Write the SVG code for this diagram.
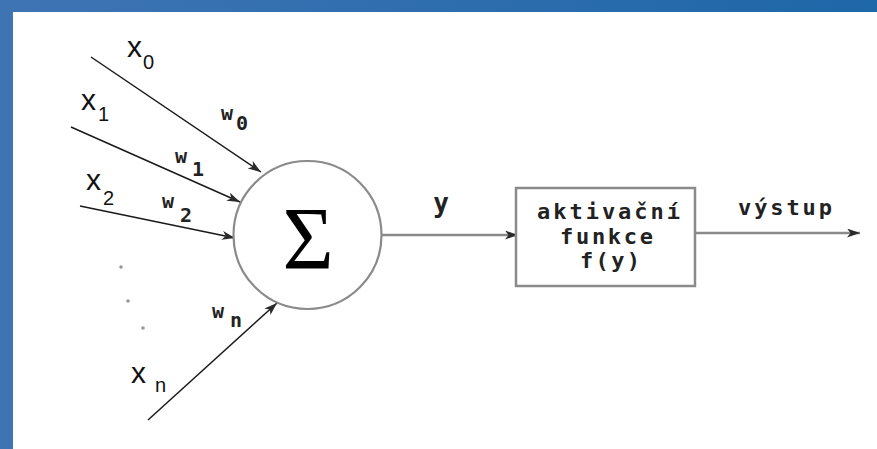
<svg xmlns="http://www.w3.org/2000/svg" width="877" height="449" viewBox="0 0 877 449">
  <defs>
    <linearGradient id="bar" x1="0" y1="0" x2="1" y2="0">
      <stop offset="0" stop-color="#3f74b4"/>
      <stop offset="1" stop-color="#1e67a8"/>
    </linearGradient>
    <marker id="arr" viewBox="0 0 13 9" refX="13" refY="4.5" markerWidth="13" markerHeight="9" markerUnits="userSpaceOnUse" orient="auto">
      <path d="M0,0 L13,4.5 L0,9 L3.5,4.5 z" fill="#2a2a2a"/>
    </marker>
    <style>
      .in { stroke: #1a1a1a; stroke-width: 1.5; fill: none; }
      .out { stroke: #8a8a8a; stroke-width: 2.5; fill: none; }
      .lbl { font-family: "Liberation Sans", Arial, sans-serif; fill: #111; }
      .mono { font-family: "DejaVu Sans Mono", "Liberation Mono", monospace; font-weight: bold; fill: #222; }
      .dot { fill: #999; }
    </style>
  </defs>
  <rect x="0" y="0" width="877" height="449" fill="#ffffff"/>
  <rect x="0" y="0" width="877" height="12" fill="url(#bar)"/>
  <rect x="0" y="0" width="13" height="449" fill="#3f74b4"/>

  <g id="connectors">
    <line class="in" x1="91" y1="57" x2="261" y2="172" marker-end="url(#arr)"/>
    <line class="in" x1="71" y1="127" x2="240" y2="202" marker-end="url(#arr)"/>
    <line class="in" x1="80" y1="206" x2="235" y2="238" marker-end="url(#arr)"/>
    <line class="in" x1="148" y1="420" x2="277" y2="303" marker-end="url(#arr)"/>
    <line class="out" x1="382" y1="235" x2="518" y2="235" marker-end="url(#arr)"/>
    <line class="out" x1="695" y1="233" x2="860" y2="233" marker-end="url(#arr)"/>
  </g>

  <g id="inputs">
    <text class="lbl" font-size="30" x="127" y="57">x</text>
    <text class="lbl" font-size="20" x="143" y="69">0</text>
    <text class="lbl" font-size="30" x="81" y="110">x</text>
    <text class="lbl" font-size="20" x="98" y="121">1</text>
    <text class="lbl" font-size="30" x="86" y="190">x</text>
    <text class="lbl" font-size="20" x="103" y="205">2</text>
    <text class="lbl" font-size="30" x="131" y="383">x</text>
    <text class="lbl" font-size="20" x="155" y="392">n</text>
    <circle class="dot" cx="121" cy="267" r="1.8"/>
    <circle class="dot" cx="128" cy="301" r="1.8"/>
    <circle class="dot" cx="143" cy="328" r="1.8"/>
  </g>

  <g id="weights">
    <text class="mono" font-size="20" x="221" y="120">w</text>
    <text class="mono" font-size="20" x="236" y="130">0</text>
    <text class="mono" font-size="20" x="175" y="163">w</text>
    <text class="mono" font-size="20" x="192" y="176">1</text>
    <text class="mono" font-size="20" x="162" y="208">w</text>
    <text class="mono" font-size="20" x="180" y="222">2</text>
    <text class="mono" font-size="20" x="212" y="318">w</text>
    <text class="mono" font-size="20" x="230" y="327">n</text>
  </g>

  <g id="sum">
    <circle cx="307.5" cy="235" r="74" fill="#fff" stroke="#8a8a8a" stroke-width="2.2"/>
    <text x="308" y="268" font-size="88" text-anchor="middle" font-family="'Liberation Serif', 'Times New Roman', serif" fill="#000">Σ</text>
  </g>

  <g id="y-label">
    <text class="mono" font-size="26" x="441" y="212" text-anchor="middle">y</text>
  </g>

  <g id="activation">
    <rect x="516" y="188" width="179" height="98" fill="#fff" stroke="#8a8a8a" stroke-width="2.5"/>
    <text class="mono" font-size="22" x="608.5" y="219" text-anchor="middle" textLength="143" lengthAdjust="spacing">aktivační</text>
    <text class="mono" font-size="22" x="606.5" y="244" text-anchor="middle" textLength="93" lengthAdjust="spacing">funkce</text>
    <text class="mono" font-size="22" x="610" y="268" text-anchor="middle" textLength="60" lengthAdjust="spacing">f(y)</text>
  </g>

  <g id="output">
    <text class="mono" font-size="22" x="785" y="215" text-anchor="middle" textLength="94" lengthAdjust="spacing">výstup</text>
  </g>
</svg>
